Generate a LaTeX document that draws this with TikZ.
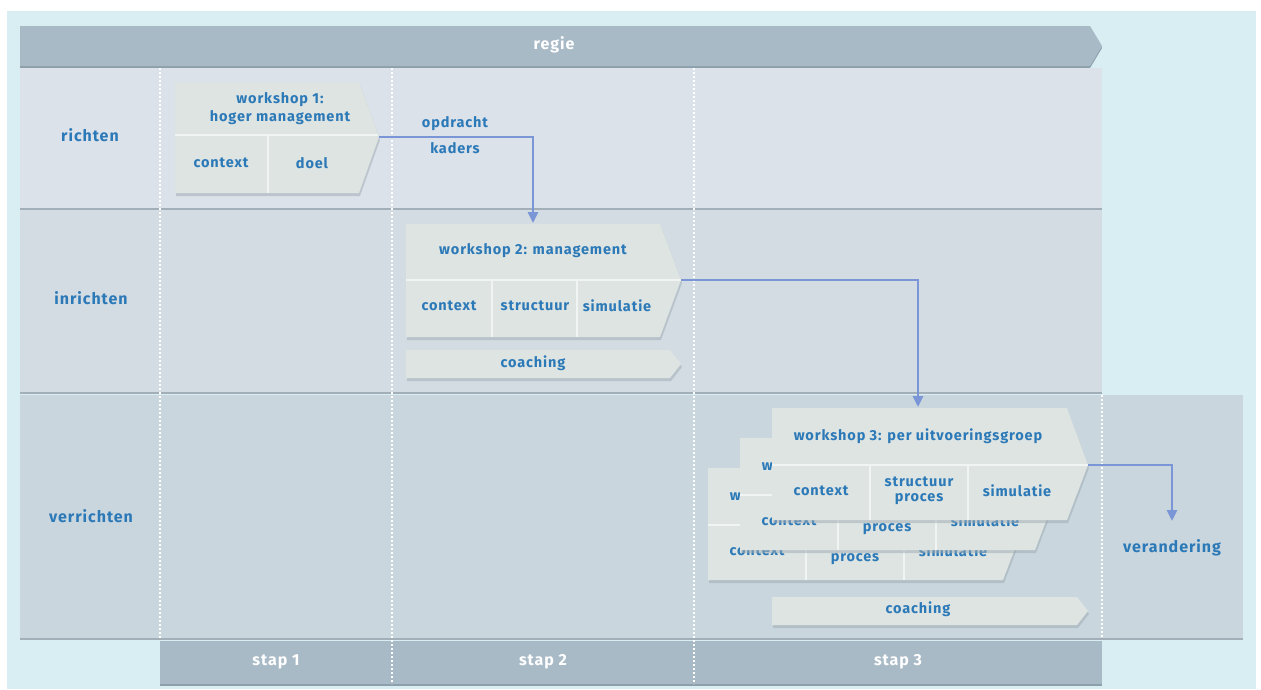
\documentclass[tikz,border=0pt]{standalone}
\usepackage{fontspec}
\setmainfont{Fira Sans}[LetterSpace=6]
\usetikzlibrary{arrows.meta}
\definecolor{bgblue}{HTML}{D9EEF3}
\definecolor{barcol}{HTML}{A9BAC7}
\definecolor{barshadow}{HTML}{8E9FAC}
\definecolor{row1}{HTML}{DCE2EA}
\definecolor{row2}{HTML}{D3DCE3}
\definecolor{row3}{HTML}{CAD6DE}
\definecolor{rowshadow}{HTML}{A3AFB8}
\definecolor{cardcol}{HTML}{DDE4E2}
\definecolor{cardline}{HTML}{F0F4F3}
\definecolor{shadowcol}{HTML}{9EAAB2}
\definecolor{txtblue}{HTML}{2C79B8}
\definecolor{arrowcol}{HTML}{7B96D6}
\newcommand\wsthreecard[3]{%
\begin{scope}[shift={(#2,#3)}]
\fill[shadowcol,opacity=.5] (773,411) -- (1068,411) -- (1089,468) -- (1068,523) -- (773,523) -- cycle;
\fill[cardcol] (772,408) -- (1067,408) -- (1088,465) -- (1067,520) -- (772,520) -- cycle;
\draw[cardsep] (772,465) -- (1088,465) (870,465) -- (870,520) (968,465) -- (968,520);
\node[ctext] (#1title) at (918,436) {workshop 3: per uitvoeringsgroep};
\node[ctext] (#1ctx) at (821,491) {context};
\node[ctext] (#1str) at (919,491) {structuur\\proces};
\node[ctext] (#1sim) at (1017,491) {simulatie};
\end{scope}}
\begin{document}
\begin{tikzpicture}[x=1pt,y=-1pt,
  lbl/.style={text=txtblue, font=\bfseries\fontsize{16}{19}\selectfont, inner sep=0pt},
  ctext/.style={text=txtblue, font=\bfseries\fontsize{14.5}{15}\selectfont, align=center, inner sep=0pt},
  wtext/.style={text=white, font=\bfseries\fontsize{16}{18}\selectfont, inner sep=0pt},
  cardsep/.style={cardline, line width=1.5pt},
  dots/.style={white, line width=1.6pt, dash pattern=on 1.6pt off 2.4pt},
  flow/.style={arrowcol, line width=2.6pt, -{Triangle[width=10pt,length=11pt]}}]
\useasboundingbox (0,0) rectangle (1261,689);
\fill[white] (0,0) rectangle (1261,689);
\fill[bgblue] (7,11) rectangle (1256,689);
% regie bar
\fill[barshadow] (20,28) -- (1090,28) -- (1102,48) -- (1090,68) -- (20,68) -- cycle;
\fill[barcol] (20,26) -- (1090,26) -- (1102,46) -- (1090,66) -- (20,66) -- cycle;
\node[wtext] (regie) at (554,45) {regie};
% rows
\fill[rowshadow] (20,70) rectangle (1102,210);
\fill[row1] (20,68) rectangle (1102,208);
\fill[rowshadow] (20,212) rectangle (1102,394);
\fill[row2] (20,210) rectangle (1102,392);
\fill[rowshadow] (20,397) rectangle (1243,640);
\fill[row3] (20,395) rectangle (1243,638);
% stap bar
\fill[barshadow] (160,643) rectangle (1102,686);
\fill[barcol] (160,641) rectangle (1102,684);
% dotted lines
\draw[dots] (160,68) -- (160,638);
\draw[dots] (392,68) -- (392,684);
\draw[dots] (694,68) -- (694,684);
\draw[dots] (1102,395) -- (1102,638);
% labels
\node[lbl] (richten) at (90,135) {richten};
\node[lbl] (inrichten) at (91,298) {inrichten};
\node[lbl] (verrichten) at (91,516) {verrichten};
\node[wtext] (stap1) at (276,662) {stap 1};
\node[wtext] (stap2) at (543,662) {stap 2};
\node[wtext] (stap3) at (898,662) {stap 3};
% workshop 1
\fill[shadowcol,opacity=.5] (176,85) -- (360,85) -- (380,140) -- (360,196) -- (176,196) -- cycle;
\fill[cardcol] (175,82) -- (359,82) -- (379,137) -- (359,193) -- (175,193) -- cycle;
\draw[cardsep] (175,135) -- (378,135) (268,135) -- (268,193);
\node[ctext] (w1title) at (280,109) {workshop 1:\\[3pt]hoger management};
\node[ctext] (w1ctx) at (221,163) {context};
\node[ctext] (w1doel) at (312,163) {doel};
\coordinate (w1tip) at (379,137);
% workshop 2
\fill[shadowcol,opacity=.5] (407,227) -- (661,227) -- (682,283) -- (661,340) -- (407,340) -- cycle;
\fill[cardcol] (406,224) -- (660,224) -- (681,280) -- (660,337) -- (406,337) -- cycle;
\draw[cardsep] (406,280) -- (681,280) (492,280) -- (492,337) (577,280) -- (577,337);
\node[ctext] (w2title) at (533,251) {workshop 2: management};
\node[ctext] (w2ctx) at (449,306) {context};
\node[ctext] (w2str) at (535,306) {structuur};
\node[ctext] (w2sim) at (617,306) {simulatie};
\coordinate (w2tip) at (681,280);
\coordinate (w2in) at (533,223);
% coaching 1
\fill[shadowcol,opacity=.5] (407,353) -- (671,353) -- (682,367) -- (671,381) -- (407,381) -- cycle;
\fill[cardcol] (406,350) -- (670,350) -- (681,364) -- (670,378) -- (406,378) -- cycle;
\node[ctext] (coach1) at (533,363) {coaching};
% workshop 3 stack
\wsthreecard{c}{-64}{60}
\wsthreecard{b}{-32}{30}
\wsthreecard{a}{0}{0}
\coordinate (w3tip) at (1088,465);
\coordinate (w3in) at (918,407);
% coaching 2
\fill[shadowcol,opacity=.5] (773,600) -- (1078,600) -- (1089,614) -- (1078,628) -- (773,628) -- cycle;
\fill[cardcol] (772,597) -- (1077,597) -- (1088,611) -- (1077,625) -- (772,625) -- cycle;
\node[ctext] (coach2) at (918,609) {coaching};
% result
\node[lbl] (verandering) at (1172,548) {verandering};
\coordinate (vin) at (1172,521);
% connectors
\draw[flow] (w1tip) -| (w2in);
\draw[flow] (w2tip) -| (w3in);
\draw[flow] (w3tip) -| (vin);
\node[ctext] (opdracht) at (455,124) {opdracht};
\node[ctext] (kaders) at (455,148) {kaders};
\end{tikzpicture}
\end{document}
